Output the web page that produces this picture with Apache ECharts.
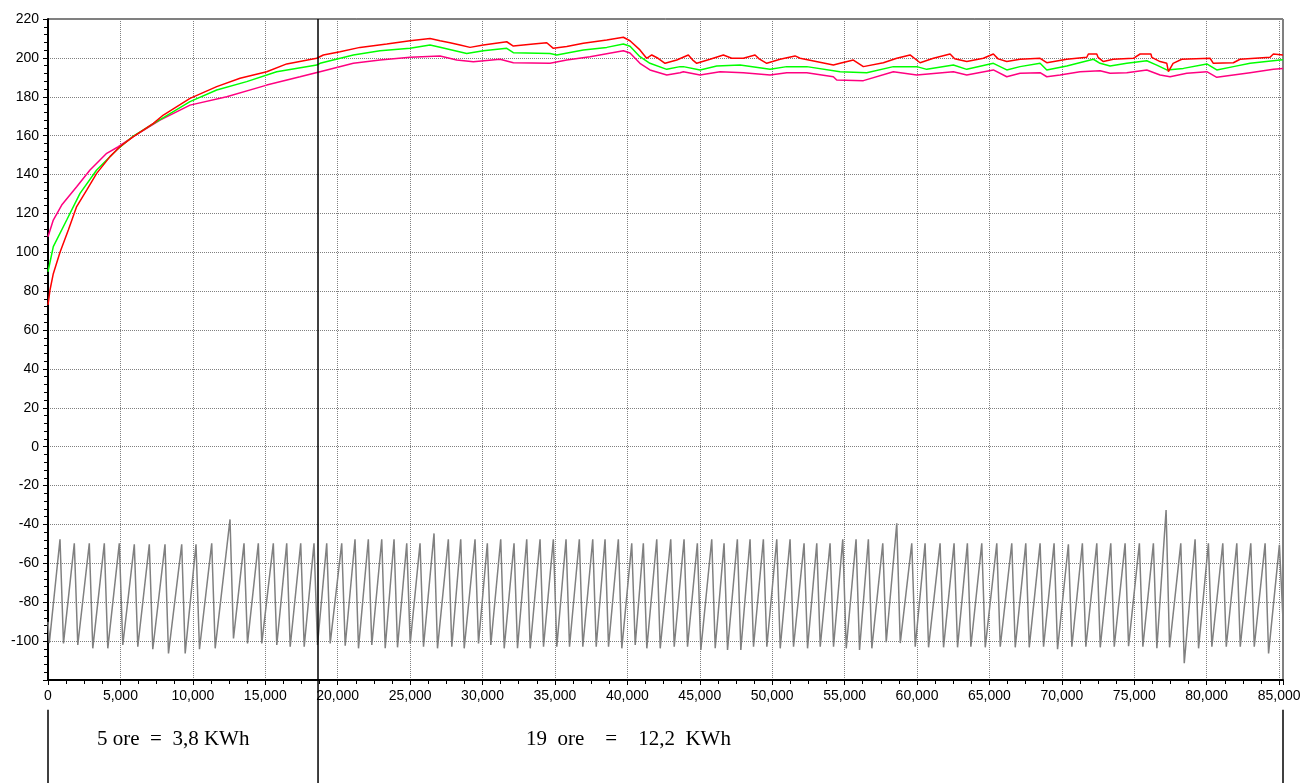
<!DOCTYPE html>
<html>
<head>
<meta charset="utf-8">
<title>grafico</title>
<script src="https://cdn.jsdelivr.net/npm/echarts@6/dist/echarts.min.js"></script>
<style>
    html, body {margin: 0; padding: 0; background: #fff;}
    #chart {width: 1301px; height: 783px;}
</style>
</head>
<body>
<div id="chart"></div>
<script>
// curve superiori [x, valore]
var redLine = [[0, 73], [138, 80.6], [366, 89], [829, 100], [1404, 111.5], [1979, 123.5], [2670, 132], [3360, 140.6],
    [4281, 149.2], [4972, 154.3], [5892, 159.5], [7274, 166.3], [7964, 170.6], [9805, 179.2], [11648, 185.2], [13258, 189.5],
    [15101, 192.9], [16482, 196.9], [18553, 199.8], [19010, 201.5], [20163, 203.2], [21544, 205.4], [23388, 207.1], [24997, 208.8],
    [26377, 210.0], [27068, 208.8], [27758, 207.8], [28449, 206.6], [29139, 205.4], [30058, 206.6], [31673, 208.3], [32129, 206.1],
    [33511, 207.1], [34436, 207.8], [34891, 204.9], [35817, 205.8], [36962, 207.5], [38577, 209.2], [39724, 210.6], [40180, 208.8],
    [40870, 204.1], [41332, 199.8], [41685, 201.5], [42121, 199.8], [42604, 197.2], [43412, 198.9], [44213, 201.5], [44500, 199.0],
    [44792, 197.2], [45711, 199.3], [46630, 201.5], [47205, 199.8], [48010, 199.8], [48818, 201.5], [49100, 199.5], [49626, 197.2],
    [50545, 199.3], [51581, 201.0], [51926, 199.8], [54224, 196.3], [54688, 197.2], [55606, 198.9], [56297, 195.5], [57678, 197.5],
    [58603, 199.8], [59521, 201.5], [60212, 197.5], [61132, 199.8], [62283, 202.0], [62600, 199.5], [63436, 198.1], [64583, 199.8],
    [65273, 202.0], [65600, 199.5], [66198, 198.1], [67117, 199.3], [68498, 199.8], [68960, 197.5], [70341, 199.3], [71722, 200.3],
    [71832, 202.0], [72413, 202.0], [72500, 200.3], [72868, 198.1], [73559, 199.3], [74940, 199.8], [75403, 202.0], [76150, 202.0],
    [76210, 200.3], [76784, 198.1], [77247, 197.2], [77357, 192.9], [77681, 197.2], [78282, 199.3], [80234, 199.8], [80462, 197.2],
    [81843, 197.5], [82306, 199.3], [84377, 200.3], [84605, 202.0], [85270, 201.5]];

var greenLine = [[0, 90], [366, 102.9], [1291, 116.6], [2210, 130.3], [3360, 142.3], [4742, 152.6], [5892, 159.8], [7504, 167.2],
    [9805, 177.5], [11648, 183.5], [13718, 187.8], [15792, 192.9], [18553, 196.3], [18782, 197.2], [21081, 201.5], [22925, 203.7],
    [24997, 204.9], [26377, 206.6], [27068, 205.5], [28911, 202.3], [30058, 203.7], [31673, 204.9], [32129, 202.7], [34663, 202.3],
    [35125, 201.5], [36962, 204.1], [38577, 205.4], [39724, 207.1], [40185, 206.0], [40870, 200.6], [41561, 197.2], [42722, 194.1],
    [43641, 195.5], [43870, 195.5], [45021, 193.8], [46174, 195.8], [47784, 196.3], [49856, 194.1], [51007, 195.5], [52388, 195.5],
    [54688, 192.9], [56531, 192.4], [58368, 195.5], [59984, 195.5], [60674, 194.1], [62511, 196.3], [63436, 194.1], [65273, 197.2],
    [66198, 193.8], [67117, 195.5], [68498, 197.2], [68960, 193.8], [70341, 195.8], [72178, 199.3], [72640, 197.2], [73331, 195.8],
    [74484, 197.2], [75865, 198.5], [76555, 196.3], [77247, 193.8], [78393, 194.6], [80008, 196.9], [80698, 193.8], [81845, 195.5],
    [82998, 197.2], [85070, 198.9], [85270, 199.0]];

var pinkLine = [[0, 108], [366, 116.6], [946, 124.3], [1979, 133.7], [2900, 142.3], [4053, 150.9], [4857, 154.3], [5892, 159.5],
    [7734, 168.0], [9805, 175.7], [12340, 180.0], [15101, 186.0], [17400, 190.3], [18782, 192.9], [21081, 197.2], [22925, 198.9],
    [24997, 200.3], [27068, 201.0], [28221, 198.9], [29367, 198.0], [31211, 199.3], [32129, 197.5], [34663, 197.2], [35817, 198.9],
    [37425, 200.6], [39724, 203.7], [40185, 202.5], [40870, 197.2], [41561, 193.8], [42722, 191.2], [43641, 192.4], [43870, 192.9],
    [45021, 191.2], [46403, 192.9], [48010, 192.4], [49856, 191.2], [51007, 192.4], [52388, 192.4], [54224, 190.3], [54455, 188.6],
    [56297, 188.3], [58368, 192.9], [59984, 191.2], [62511, 192.9], [63436, 191.2], [65273, 193.8], [66198, 190.3], [67117, 192.1],
    [68498, 192.4], [68960, 190.3], [69878, 191.2], [71259, 192.9], [72640, 193.4], [73331, 192.1], [74484, 192.4], [75865, 193.8],
    [76784, 191.2], [77474, 190.3], [78627, 192.1], [80008, 192.9], [80698, 190.0], [81845, 191.2], [82998, 192.4], [84607, 194.1],
    [85270, 194.6]];

// curva grigia: massimi e minimi di ogni ciclo
var grayPeakX = [829, 1816, 2852, 3888, 4923, 5959, 6995, 8079, 9232, 10219, 11304, 12567, 13534, 14521, 15557, 16482, 17449,
    18367, 19244, 20280, 21198, 22117, 23043, 23892, 24769, 25687, 26653, 27641, 28497, 29484, 30334, 31259, 32177, 33054, 33973,
    34891, 35768, 36686, 37611, 38461, 39379, 40304, 41105, 42031, 42997, 43916, 44834, 45828, 46678, 47596, 48473, 49392, 50317,
    51235, 52202, 53079, 53997, 54874, 55792, 56642, 57636, 58603, 59638, 60557, 61593, 62559, 63478, 64472, 65508, 66543, 67510,
    68498, 69464, 70452, 71418, 72413, 73379, 74367, 75354, 76321, 77198, 78213, 79200, 80119, 81113, 82080, 83046, 84034, 85022];
var grayPeakY = [-47.6, -49.7, -49.7, -49.7, -49.7, -50.2, -50.2, -50.2, -50.2, -50.2, -49.7, -37.4, -49.7, -49.7, -49.7, -49.7,
    -49.7, -49.7, -49.7, -49.7, -47.6, -47.6, -47.6, -47.6, -49.7, -49.7, -44.6, -47.6, -47.6, -47.6, -49.7, -47.6, -49.7, -47.6,
    -47.6, -47.6, -47.6, -47.6, -47.6, -47.6, -47.6, -49.7, -49.7, -47.6, -47.6, -47.6, -49.7, -47.6, -49.7, -47.6, -47.6, -47.6,
    -47.6, -47.6, -49.7, -49.7, -49.7, -47.6, -47.6, -47.6, -49.7, -39.4, -49.7, -49.7, -49.7, -49.7, -49.7, -49.7, -49.7, -49.7,
    -49.7, -49.7, -49.7, -50.2, -49.7, -49.7, -49.7, -49.7, -49.7, -49.7, -32.6, -49.7, -47.6, -49.7, -49.7, -49.7, -49.7, -49.7,
    -50.5];
var grayLowX = [1069, 2056, 3092, 4128, 5163, 6199, 7235, 8319, 9472, 10459, 11544, 12807, 13774, 14761, 15797, 16722, 17689,
    18607, 19484, 20520, 21438, 22357, 23283, 24132, 25009, 25927, 26893, 27881, 28737, 29724, 30574, 31499, 32417, 33294, 34213,
    35131, 36008, 36926, 37851, 38701, 39619, 40544, 41345, 42271, 43237, 44156, 45074, 46068, 46918, 47836, 48713, 49632, 50557,
    51475, 52442, 53319, 54237, 55114, 56032, 56882, 57876, 58843, 59878, 60797, 61833, 62799, 63718, 64712, 65748, 66783, 67750,
    68738, 69704, 70692, 71658, 72653, 73619, 74607, 75594, 76561, 77438, 78453, 79440, 80359, 81353, 82320, 83286, 84274];
var grayLowY = [-101.2, -102.0, -103.7, -103.7, -102.0, -102.9, -104.2, -106.3, -106.3, -104.2, -103.7, -98.6, -101.2, -101.2,
    -102.0, -102.9, -102.9, -102.0, -101.2, -102.4, -103.7, -102.0, -103.7, -103.2, -101.2, -102.9, -103.7, -102.9, -103.7, -101.2,
    -102.0, -103.7, -103.7, -103.7, -102.9, -102.9, -102.9, -102.9, -102.9, -102.9, -103.7, -102.0, -103.7, -103.7, -102.9, -102.9,
    -104.5, -103.7, -104.5, -104.5, -102.9, -102.9, -103.7, -102.9, -103.7, -102.9, -102.9, -103.7, -104.5, -103.7, -100.6, -101.0,
    -102.9, -103.2, -103.2, -103.2, -102.9, -103.2, -102.9, -103.2, -103.2, -102.9, -104.2, -102.9, -102.9, -103.2, -102.9, -102.6,
    -102.9, -103.7, -103.2, -111.4, -103.7, -102.9, -102.9, -102.9, -102.9, -106.3];
var grayHead = [[0, -90], [90, -101]];
var grayTail = [[85270, -89]];

// separazione dei periodi
var cutX = 18644;
var dividerX = [0, 18644, 85270];
var dividerTop = [0.71, 1, 0.71];
var noteLeft = '5 ore  =  3,8 KWh';
var noteRight = '19  ore    =    12,2  KWh';

(function () {
    var myChart = echarts.init(document.getElementById('chart'));

    var grayData = grayHead.slice();
    for (var i = 0; i < grayPeakX.length; i++) {
        grayData.push([grayPeakX[i], grayPeakY[i]]);
        if (i < grayLowX.length) {
            grayData.push([grayLowX[i], grayLowY[i]]);
        }
    }
    grayData = grayData.concat(grayTail);

    var series = [
        {
            name: 'grigio',
            type: 'line',
            showSymbol: false,
            data: grayData,
            lineStyle: {color: '#808080', width: 1.5},
            markLine: {
                silent: true,
                symbol: ['none', 'none'],
                label: {show: false},
                lineStyle: {color: '#000', type: 'solid', width: 1.5},
                data: [{xAxis: cutX}]
            }
        },
        {
            name: 'magenta',
            type: 'line',
            showSymbol: false,
            data: pinkLine,
            lineStyle: {color: '#ff0080', width: 1.5}
        },
        {
            name: 'verde',
            type: 'line',
            showSymbol: false,
            data: greenLine,
            lineStyle: {color: '#00ff00', width: 1.5}
        },
        {
            name: 'rosso',
            type: 'line',
            showSymbol: false,
            data: redLine,
            lineStyle: {color: '#ff0000', width: 1.5}
        }
    ];

    // linee verticali sotto l'asse
    for (var d = 0; d < dividerX.length; d++) {
        series.push({
            type: 'line',
            xAxisIndex: 1,
            yAxisIndex: 1,
            showSymbol: false,
            silent: true,
            data: [[dividerX[d], 0], [dividerX[d], dividerTop[d]]],
            lineStyle: {color: '#000', width: 1.5}
        });
    }

    var option = {
        animation: false,
        backgroundColor: '#fff',
        textStyle: {fontFamily: '"Liberation Sans", Arial, sans-serif'},
        grid: [
            {left: 48, right: 18, top: 19, bottom: 103, outerBoundsMode: 'none', containLabel: false,
                show: true, borderColor: '#000', borderWidth: 1},
            {left: 48, right: 18, top: 680, bottom: 0, outerBoundsMode: 'none', containLabel: false}
        ],
        xAxis: [
            {
                type: 'value',
                min: 0,
                max: 85270,
                interval: 5000,
                axisLine: {onZero: false, lineStyle: {color: '#000', width: 2}},
                axisTick: {show: true, length: 5, lineStyle: {color: '#000'}},
                minorTick: {show: true, splitNumber: 4, length: 4, lineStyle: {color: '#000'}},
                axisLabel: {
                    color: '#000',
                    fontSize: 14,
                    margin: 9,
                    formatter: function (v) {
                        return v % 5000 ? '' : echarts.format.addCommas(v);
                    }
                },
                splitLine: {show: true, lineStyle: {color: '#808080', type: [1, 1]}}
            },
            {gridIndex: 1, type: 'value', min: 0, max: 85270, show: false}
        ],
        yAxis: [
            {
                type: 'value',
                min: -120,
                max: 220,
                interval: 20,
                axisLine: {show: true, onZero: false, lineStyle: {color: '#000', width: 2}},
                axisTick: {show: true, length: 5, lineStyle: {color: '#000'}},
                minorTick: {show: true, splitNumber: 5, length: 4, lineStyle: {color: '#000'}},
                axisLabel: {color: '#000', fontSize: 14, margin: 9, showMinLabel: false},
                splitLine: {show: true, lineStyle: {color: '#808080', type: [1, 1]}}
            },
            {gridIndex: 1, type: 'value', min: 0, max: 1, show: false}
        ],
        graphic: [
            {
                type: 'text',
                x: 97,
                y: 739,
                silent: true,
                style: {text: noteLeft, fontFamily: '"Liberation Serif", "Times New Roman", serif', fontSize: 21, fill: '#000', verticalAlign: 'middle'}
            },
            {
                type: 'text',
                x: 526,
                y: 739,
                silent: true,
                style: {text: noteRight, fontFamily: '"Liberation Serif", "Times New Roman", serif', fontSize: 21, fill: '#000', verticalAlign: 'middle'}
            }
        ],
        series: series
    };

    myChart.setOption(option);
})();
</script>
</body>
</html>
